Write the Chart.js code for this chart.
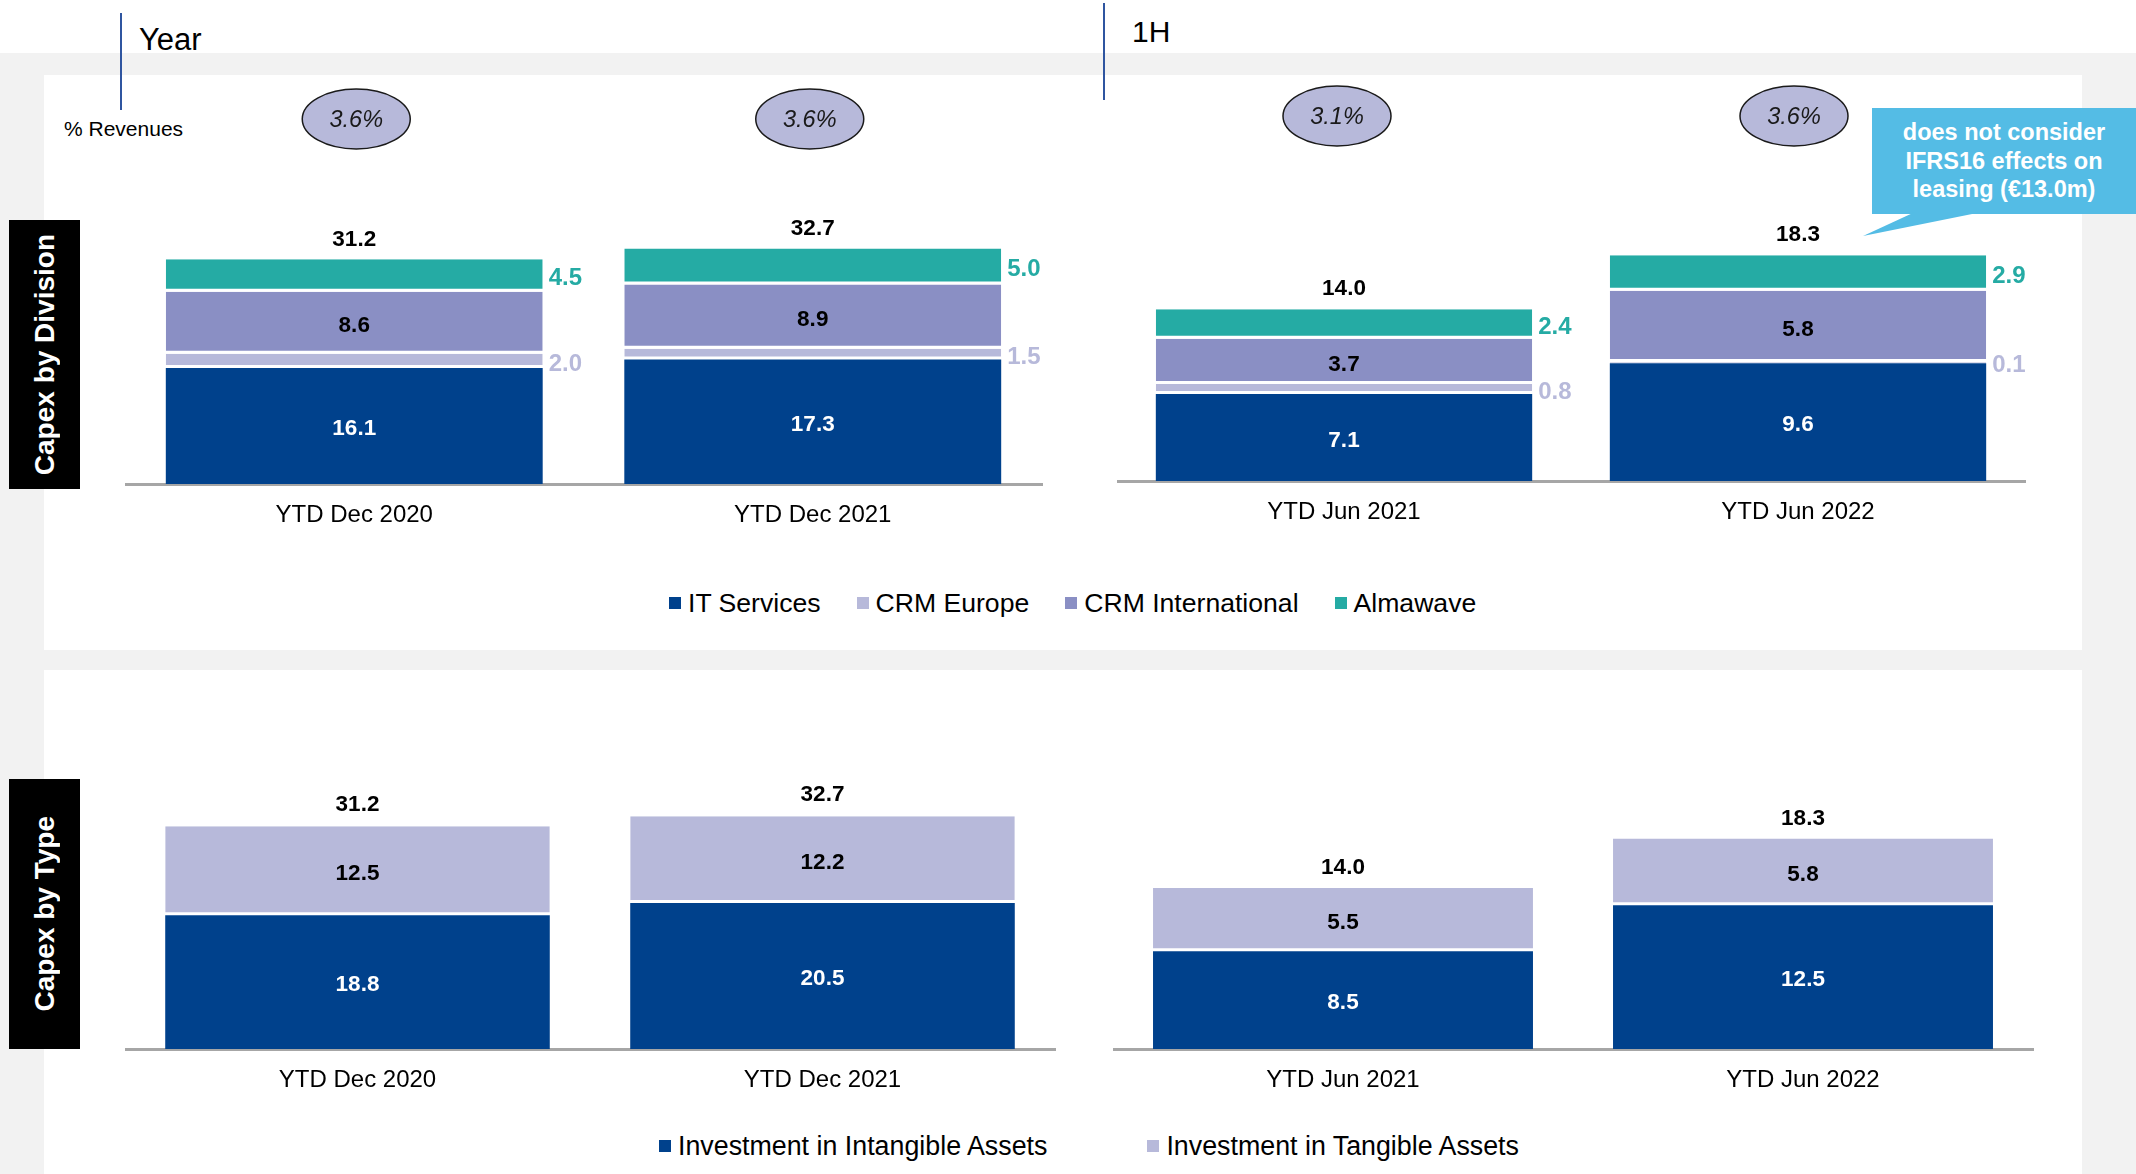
<!DOCTYPE html>
<html>
<head>
<meta charset="utf-8">
<script src="https://cdn.jsdelivr.net/npm/chart.js@4.4.1/dist/chart.umd.min.js"></script>
<style>
  body { margin: 0; width: 2136px; height: 1174px; background: #f2f2f2; position: relative; overflow: hidden;
         font-family: "Liberation Sans", Arial, sans-serif; }
  .abs { position: absolute; }
  .strip { left: 0; top: 0; width: 2136px; height: 53px; background: #fff; }
  .panel { background: #fff; }
  .vline { width: 2px; background: #2f55a0; }
  .tag { background: #000; color: #fff; font-weight: bold; font-size: 28px; display: flex; align-items: center; justify-content: center; }
  .tag span { writing-mode: vertical-rl; transform: rotate(180deg); white-space: nowrap; }
  .legend { display: flex; align-items: center; color: #000; white-space: nowrap; }
  .legend .item { display: flex; align-items: center; }
  .legend .sw { width: 12px; height: 12px; margin-right: 7px; }
  .callout { left: 1872px; top: 108px; width: 264px; height: 106px; background: #54bce5; color: #fff;
             font-weight: bold; font-size: 23.5px; line-height: 28.5px; text-align: center;
             display: flex; align-items: center; justify-content: center; }
  canvas { position: absolute; }
</style>
</head>
<body>
<div class="abs strip"></div>
<div class="abs panel" style="left:44px;top:75px;width:2038px;height:575px"></div>
<div class="abs panel" style="left:44px;top:670px;width:2038px;height:504px"></div>

<div class="abs vline" style="left:120px;top:13px;height:97px"></div>
<div class="abs" style="left:139px;top:24px;font-size:31px;line-height:31px">Year</div>
<div class="abs vline" style="left:1103px;top:3px;height:97px"></div>
<div class="abs" style="left:1132px;top:17px;font-size:30px;line-height:30px">1H</div>
<div class="abs" style="left:64px;top:118px;font-size:21px;line-height:22px">% Revenues</div>

<div class="abs tag" style="left:9px;top:220px;width:71px;height:269px"><span>Capex by Division</span></div>
<div class="abs tag" style="left:9px;top:779px;width:71px;height:270px"><span>Capex by Type</span></div>

<div id="legendTop" class="abs legend" style="left:669px;top:588px;height:30px;gap:36px;font-size:26.6px"></div>
<div id="legendBottom" class="abs legend" style="left:659px;top:1131px;height:30px;gap:100px;font-size:26.8px"></div>

<div class="abs callout"><div>does not consider<br>IFRS16 effects on<br>leasing (€13.0m)</div></div>
<svg class="abs" style="left:0;top:0" width="2136" height="260">
  <polygon points="1915,212 1982,212 1863,236" fill="#54bce5"/>
</svg>

<script>
const FONT = '"Liberation Sans", Arial, sans-serif';

// categories
const yearLabels = ['YTD Dec 2020', 'YTD Dec 2021'];
const halfLabels = ['YTD Jun 2021', 'YTD Jun 2022'];

// capex by division (€m)
const itServicesYear = [16.1, 17.3];
const itServicesHalf = [7.1, 9.6];
const crmEuropeYear = [2.0, 1.5];
const crmEuropeHalf = [0.8, 0.1];
const crmInternationalYear = [8.6, 8.9];
const crmInternationalHalf = [3.7, 5.8];
const almawaveYear = [4.5, 5.0];
const almawaveHalf = [2.4, 2.9];

// capex by type (€m)
const intangibleYear = [18.8, 20.5];
const intangibleHalf = [8.5, 12.5];
const tangibleYear = [12.5, 12.2];
const tangibleHalf = [5.5, 5.8];

// totals printed above the stacks
const totalsYear = [31.2, 32.7];
const totalsHalf = [14.0, 18.3];

// capex as % of revenues
const pctRevenueYear = [3.6, 3.6];
const pctRevenueHalf = [3.1, 3.6];

const BLUE = '#00418c', LAVENDER = '#b7b9da', PURPLE = '#8a8fc4', TEAL = '#25aba4';

const divisionSeries = [
  { name: 'IT Services', color: BLUE, year: itServicesYear, half: itServicesHalf, pos: 'inside', text: '#fff' },
  { name: 'CRM Europe', color: LAVENDER, year: crmEuropeYear, half: crmEuropeHalf, pos: 'side', text: LAVENDER },
  { name: 'CRM International', color: PURPLE, year: crmInternationalYear, half: crmInternationalHalf, pos: 'inside', text: '#000' },
  { name: 'Almawave', color: TEAL, year: almawaveYear, half: almawaveHalf, pos: 'side', text: TEAL }
];
const typeSeries = [
  { name: 'Investment in Intangible Assets', color: BLUE, year: intangibleYear, half: intangibleHalf, pos: 'inside', text: '#fff' },
  { name: 'Investment in Tangible Assets', color: LAVENDER, year: tangibleYear, half: tangibleHalf, pos: 'inside', text: '#000' }
];

// value labels, totals and the % revenues bubbles
const barLabels = {
  id: 'barLabels',
  afterDatasetsDraw(chart, args, opts) {
    const ctx = chart.ctx;
    ctx.save();
    ctx.textBaseline = 'middle';
    chart.data.datasets.forEach((ds, i) => {
      chart.getDatasetMeta(i).data.forEach((bar, j) => {
        const txt = ds.data[j].toFixed(1);
        const midY = (bar.y + bar.base) / 2 + 3;
        ctx.fillStyle = ds.labelColor;
        if (ds.labelPos === 'inside') {
          ctx.font = 'bold 22.5px ' + FONT;
          ctx.textAlign = 'center';
          ctx.fillText(txt, bar.x, midY);
        } else {
          ctx.font = 'bold 24px ' + FONT;
          ctx.textAlign = 'left';
          ctx.fillText(txt, bar.x + bar.width / 2 + 6, midY);
        }
      });
    });
    const tops = chart.getDatasetMeta(chart.data.datasets.length - 1).data;
    ctx.font = 'bold 22.5px ' + FONT;
    ctx.fillStyle = '#000';
    ctx.textAlign = 'center';
    opts.totals.forEach((t, j) => ctx.fillText(t.toFixed(1), tops[j].x, tops[j].y - opts.totalGap));
    if (opts.pct) {
      opts.pct.forEach((p, j) => {
        const x = tops[j].x + opts.pctShift[j], y = opts.pctY;
        ctx.beginPath();
        ctx.ellipse(x, y, 54, 30, 0, 0, Math.PI * 2);
        ctx.fillStyle = LAVENDER;
        ctx.fill();
        ctx.lineWidth = 1.5;
        ctx.strokeStyle = '#1a1a1a';
        ctx.stroke();
        ctx.fillStyle = '#1a1a1a';
        ctx.font = 'italic 23.5px ' + FONT;
        ctx.fillText(p.toFixed(1) + '%', x, y + 1);
      });
    }
    ctx.restore();
  }
};

function makeChart(box, labels, series, key, totals, pct) {
  const canvas = document.createElement('canvas');
  const w = box.width + 60;
  const h = box.axisY - box.canvasTop + 60;
  canvas.width = w; canvas.height = h;
  canvas.style.left = box.left + 'px';
  canvas.style.top = box.canvasTop + 'px';
  canvas.style.width = w + 'px';
  canvas.style.height = h + 'px';
  document.body.appendChild(canvas);

  const datasets = series.map((s, i) => ({
    label: s.name,
    data: s[key],
    backgroundColor: s.color,
    borderColor: '#fff',
    borderWidth: i === 0 ? 0 : { top: 0, left: 0, right: 0, bottom: 3 },
    borderSkipped: false,
    barPercentage: box.barPct,
    categoryPercentage: 1,
    labelPos: s.pos,
    labelColor: s.text
  }));

  new Chart(canvas, {
    type: 'bar',
    data: { labels, datasets },
    plugins: [barLabels],
    options: {
      responsive: false,
      animation: false,
      layout: { padding: { top: box.areaTop - box.canvasTop, right: 60, left: 0, bottom: 0 } },
      scales: {
        x: {
          stacked: true,
          grid: { display: false, drawTicks: false },
          border: { display: true, color: '#a6a6a6', width: 3 },
          ticks: { color: '#000', font: { size: 24, family: FONT }, padding: 17 },
          afterFit(scale) { scale.height = 60; }
        },
        y: { stacked: true, display: false, min: 0, max: (box.axisY - box.areaTop) / box.ppu }
      },
      plugins: {
        legend: { display: false },
        tooltip: { enabled: false },
        barLabels: { totals, totalGap: box.totalGap, pct, pctY: box.pctY - box.canvasTop, pctShift: box.pctShift }
      }
    }
  });
}

makeChart({ left: 125, width: 917, canvasTop: 80, areaTop: 200, axisY: 484, ppu: 7.2, barPct: 0.822, totalGap: 20,
            pctY: 119, pctShift: [2, -3] },
  yearLabels, divisionSeries, 'year', totalsYear, pctRevenueYear);
makeChart({ left: 1117, width: 908, canvasTop: 80, areaTop: 200, axisY: 481, ppu: 12.27, barPct: 0.829, totalGap: 20,
            pctY: 116, pctShift: [-7, -4] },
  halfLabels, divisionSeries, 'half', totalsHalf, pctRevenueHalf);
makeChart({ left: 125, width: 930, canvasTop: 700, areaTop: 760, axisY: 1049, ppu: 7.12, barPct: 0.827, totalGap: 21 },
  yearLabels, typeSeries, 'year', totalsYear, null);
makeChart({ left: 1113, width: 920, canvasTop: 700, areaTop: 760, axisY: 1049, ppu: 11.5, barPct: 0.826, totalGap: 20 },
  halfLabels, typeSeries, 'half', totalsHalf, null);

// HTML legends from the series lists
function buildLegend(id, series) {
  const el = document.getElementById(id);
  series.forEach(s => {
    const item = document.createElement('div');
    item.className = 'item';
    item.innerHTML = '<div class="sw" style="background:' + s.color + '"></div><span>' + s.name + '</span>';
    el.appendChild(item);
  });
}
buildLegend('legendTop', divisionSeries);
buildLegend('legendBottom', typeSeries);
</script>
</body>
</html>
